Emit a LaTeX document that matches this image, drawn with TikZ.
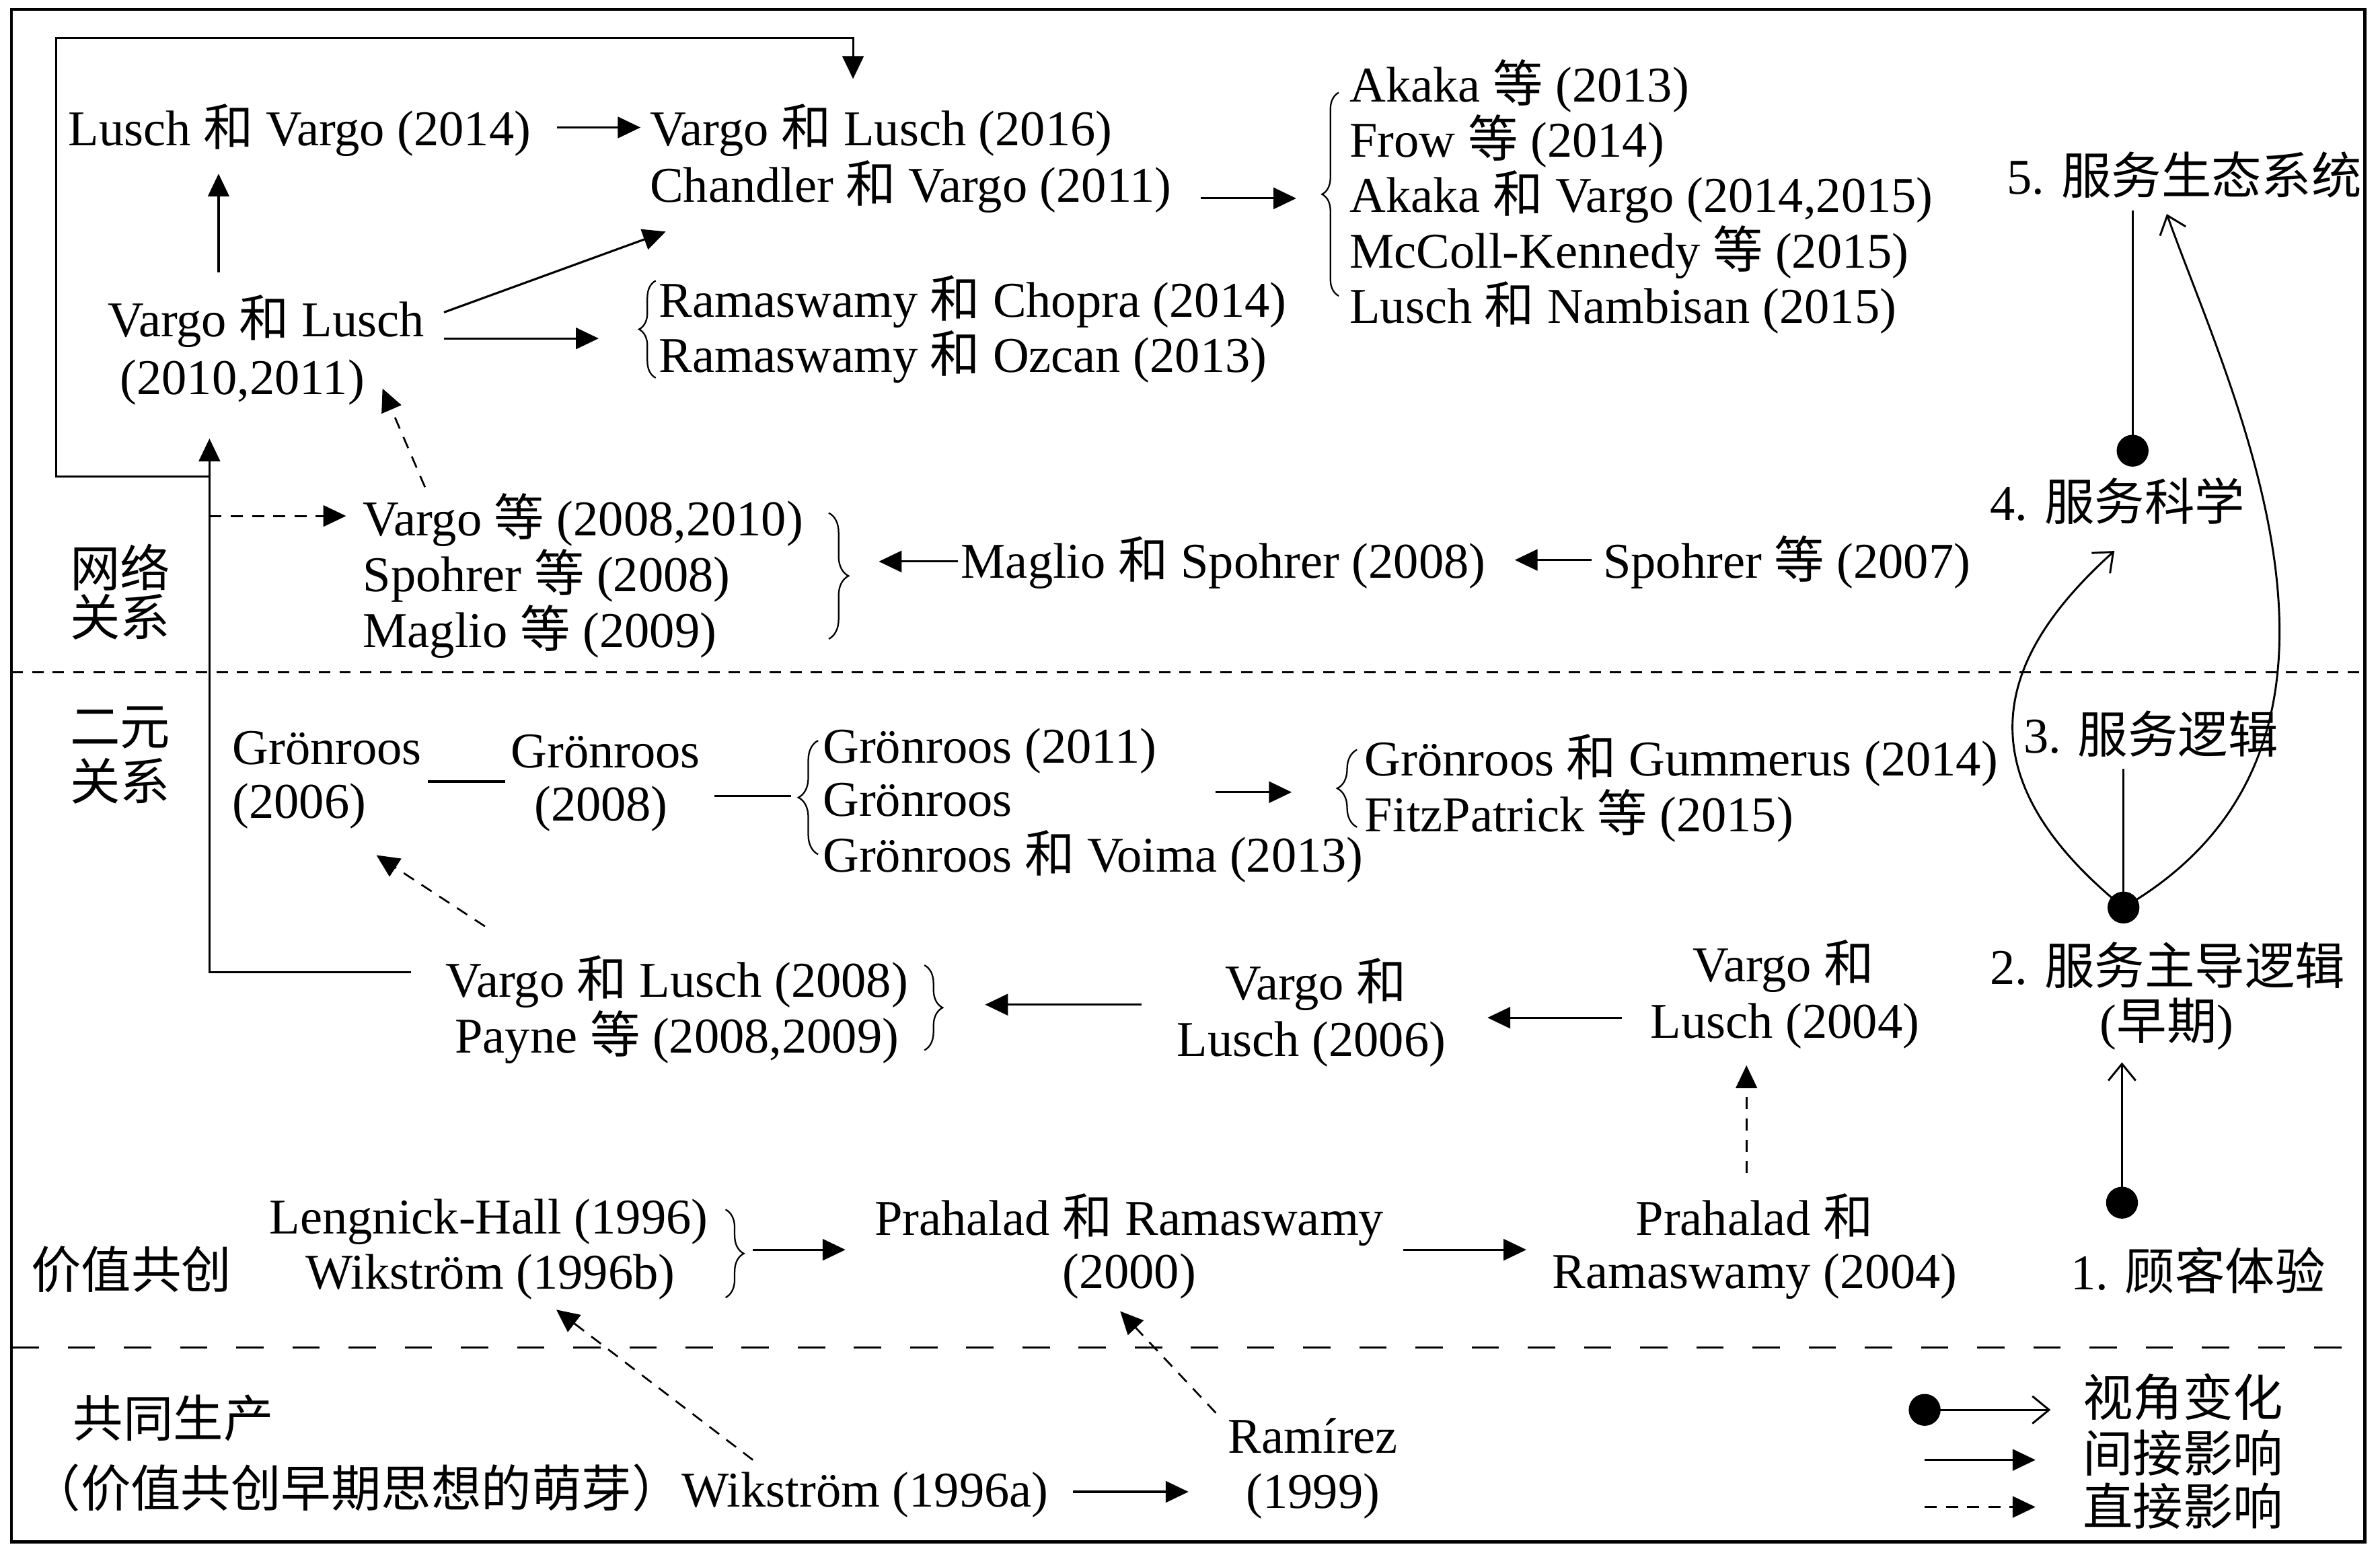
\documentclass[tikz,border=0pt]{standalone}
\usepackage{fontspec}
\setmainfont{Liberation Serif}
\newfontfamily\cjkfont{Noto Sans CJK SC}
\newcommand\zht[1]{{\cjkfont #1}}
\newcommand\fsz{\fontsize{33}{36.5}\selectfont}
\usetikzlibrary{arrows.meta,decorations.pathreplacing}
\tikzset{
  t/.style={font=\fsz, inner sep=0pt, anchor=base west},
  tc/.style={font=\fsz, inner sep=0pt, anchor=base},
  arr/.style={line width=1.4pt, -{Triangle[length=15pt,width=14pt]}},
  darr/.style={line width=1.2pt, dash pattern=on 8pt off 6pt, -{Triangle[length=15pt,width=14pt]}},
  oarr/.style={line width=1.3pt, -{Straight Barb[length=11pt,width=18pt,line width=1.3pt]}},
  plain/.style={line width=1.4pt},
  brc/.style={line width=1pt, decorate, decoration={brace, amplitude=#1}},
  dot/.style={circle, fill=black, inner sep=0pt, minimum size=21pt},
  sepa/.style={line width=1.3pt, dash pattern=on 7.5pt off 6pt},
  sepb/.style={line width=1.6pt, dash pattern=on 18pt off 19pt},
}
\begin{document}
\begin{tikzpicture}[x=1pt,y=-1pt]
\useasboundingbox (0,0) rectangle (1568,1024.6);
\fill[white] (0,0) rectangle (1568,1024.6);
% frame and separators
\draw[line width=2pt] (7.6,6.2) rectangle (1558,1016);
\draw[sepa] (7.6,443) -- (1558,443);
\draw[sepb] (7.6,888) -- (1558,888);

% ---------- network row texts
\node[t] (l14) at (45,96) {Lusch \zht{和} Vargo (2014)};
\node[t] (vl16) at (428,96) {Vargo \zht{和} Lusch (2016)};
\node[t] (cv11) at (428,133) {Chandler \zht{和} Vargo (2011)};
\node[t] (ak13) at (889,67) {Akaka \zht{等} (2013)};
\node[t] (fr14) at (889,103.5) {Frow \zht{等} (2014)};
\node[t] (akv) at (889,140) {Akaka \zht{和} Vargo (2014,2015)};
\node[t] (mck) at (889,176.5) {McColl-Kennedy \zht{等} (2015)};
\node[t] (ln15) at (889,213) {Lusch \zht{和} Nambisan (2015)};
\node[t] (p5) at (1322,128) {5. \zht{服务生态系统}};
\node[t] (vl10a) at (71,222) {Vargo \zht{和} Lusch};
\node[t] (vl10b) at (79,260) {(2010,2011)};
\node[t] (rc14) at (434,209) {Ramaswamy \zht{和} Chopra (2014)};
\node[t] (ro13) at (434,245.5) {Ramaswamy \zht{和} Ozcan (2013)};
\node[t] (ve08) at (239,353) {Vargo \zht{等} (2008,2010)};
\node[t] (sp08) at (239,390) {Spohrer \zht{等} (2008)};
\node[t] (mg09) at (239,426.5) {Maglio \zht{等} (2009)};
\node[t] (ms08) at (633,381) {Maglio \zht{和} Spohrer (2008)};
\node[t] (sp07) at (1056,381) {Spohrer \zht{等} (2007)};
\node[t] (p4) at (1311,343) {4. \zht{服务科学}};
\node[t] (netA) at (46,386.5) {\zht{网络}};
\node[t] (netB) at (46,419) {\zht{关系}};

% ---------- dyadic row texts
\node[t] (dyA) at (46,491) {\zht{二元}};
\node[t] (dyB) at (46,527) {\zht{关系}};
\node[t] (g06a) at (153,503.5) {Grönroos};
\node[t] (g06b) at (153,539) {(2006)};
\node[tc] (g08a) at (399,506) {Grönroos};
\node[tc] (g08b) at (396,541) {(2008)};
\node[t] (g11) at (542,503) {Grönroos (2011)};
\node[t] (g11b) at (542,538) {Grönroos};
\node[t] (gv13) at (542,574.5) {Grönroos \zht{和} Voima (2013)};
\node[t] (gg14) at (899,511) {Grönroos \zht{和} Gummerus (2014)};
\node[t] (fp15) at (899,548) {FitzPatrick \zht{等} (2015)};
\node[t] (p3) at (1333,496) {3. \zht{服务逻辑}};
\node[t] (p2) at (1311,648.5) {2. \zht{服务主导逻辑}};
\node[tc] (p2b) at (1427.5,685) {(\zht{早期})};
\node[tc] (vl04a) at (1175,647) {Vargo \zht{和}};
\node[tc] (vl04b) at (1176,684) {Lusch (2004)};
\node[tc] (vl06a) at (867,659) {Vargo \zht{和}};
\node[tc] (vl06b) at (864,696) {Lusch (2006)};
\node[tc] (vl08) at (446,657) {Vargo \zht{和} Lusch (2008)};
\node[tc] (py) at (446,694) {Payne \zht{等} (2008,2009)};

% ---------- value co-creation row
\node[tc] (lh96) at (322,813) {Lengnick-Hall (1996)};
\node[tc] (wk96b) at (323,849.5) {Wikström (1996b)};
\node[tc] (pr00a) at (744,814) {Prahalad \zht{和} Ramaswamy};
\node[tc] (pr00b) at (744,849) {(2000)};
\node[tc] (pr04a) at (1156,814) {Prahalad \zht{和}};
\node[tc] (pr04b) at (1156,849) {Ramaswamy (2004)};
\node[t] (p1) at (1364,850) {1. \zht{顾客体验}};
\node[t] (vcc) at (20.4,849) {\zht{价值共创}};

% ---------- co-production row
\node[t] (cp) at (48,947) {\zht{共同生产}};
\node[t] (wk96a) at (20,993) {\zht{（价值共创早期思想的萌芽）}Wikström (1996a)};
\node[tc] (ram) at (865,957.5) {Ramírez};
\node[tc] (ram99) at (865,994) {(1999)};

% ---------- legend
\node[t] (lg1) at (1372,933) {\zht{视角变化}};
\node[t] (lg2) at (1372,970) {\zht{间接影响}};
\node[t] (lg3) at (1372,1005) {\zht{直接影响}};

% ---------- dots
\node[dot] (d4) at (1405,297) {};
\node[dot] (d2) at (1399,598) {};
\node[dot] (d1) at (1398,792.5) {};
\node[dot] (dl) at (1268,929) {};

% ---------- connector end points
\coordinate (c1a) at (367,84);   \coordinate (c1b) at (422,84);
\coordinate (c2a) at (791,130.7); \coordinate (c2b) at (854,130.7);
\coordinate (c3a) at (144,179.5); \coordinate (c3b) at (144,114.5);
\coordinate (c4a) at (292.5,205.8); \coordinate (c4b) at (438.6,152.6);
\coordinate (c5a) at (292.5,223); \coordinate (c5b) at (394.4,223);
\coordinate (c6a) at (280,321);   \coordinate (c6b) at (252,256);
\coordinate (c7a) at (631,370);   \coordinate (c7b) at (579,370);
\coordinate (c8a) at (1048.5,369); \coordinate (c8b) at (998,369);
\coordinate (jn) at (138,314);
\coordinate (topL) at (37,25);
\coordinate (topR) at (562,52);
\coordinate (v08l) at (271,640.6); \coordinate (vup) at (138,289);
\coordinate (c9a) at (138,340);   \coordinate (c9b) at (228,340);
\coordinate (g1a) at (282,515);   \coordinate (g1b) at (333,515);
\coordinate (g2a) at (470.6,524.5); \coordinate (g2b) at (521,524.5);
\coordinate (g3a) at (801,522);   \coordinate (g3b) at (851,522);
\coordinate (g4a) at (319.5,610.4); \coordinate (g4b) at (248,563.5);
\coordinate (g5a) at (752,662);   \coordinate (g5b) at (649,662);
\coordinate (g6a) at (1068.5,670.6); \coordinate (g6b) at (980,670.6);
\coordinate (g7a) at (1150.6,773); \coordinate (g7b) at (1150.6,702);
\coordinate (v1a) at (496,823.5); \coordinate (v1b) at (557,823.5);
\coordinate (v2a) at (924.6,823.5); \coordinate (v2b) at (1005.6,823.5);
\coordinate (v3a) at (496,962);   \coordinate (v3b) at (366.5,863);
\coordinate (v4a) at (801,931);   \coordinate (v4b) at (738,864);
\coordinate (v5a) at (707,983);   \coordinate (v5b) at (783,983);
\coordinate (t5) at (1405,138.5);
\coordinate (t3) at (1399,506.5);
\coordinate (t2) at (1398,700);
\coordinate (t4) at (1393,363);
\coordinate (t5b) at (1427.5,141);
\coordinate (le1) at (1351,929);
\coordinate (le2a) at (1268,962); \coordinate (le2b) at (1341,962);
\coordinate (le3a) at (1268,993); \coordinate (le3b) at (1341,993);

% ---------- connectors
\draw[arr] (c1a) -- (c1b);
\draw[arr] (c2a) -- (c2b);
\draw[arr] (c3a) -- (c3b);
\draw[arr] (c4a) -- (c4b);
\draw[arr] (c5a) -- (c5b);
\draw[darr] (c6a) -- (c6b);
\draw[arr] (c7a) -- (c7b);
\draw[arr] (c8a) -- (c8b);
\draw[arr] (jn) -| (topL) -| (topR);
\draw[arr] (v08l) -| (vup);
\draw[darr] (c9a) -- (c9b);
\draw[plain] (g1a) -- (g1b);
\draw[plain] (g2a) -- (g2b);
\draw[arr] (g3a) -- (g3b);
\draw[darr] (g4a) -- (g4b);
\draw[arr] (g5a) -- (g5b);
\draw[arr] (g6a) -- (g6b);
\draw[darr] (g7a) -- (g7b);
\draw[arr] (v1a) -- (v1b);
\draw[arr] (v2a) -- (v2b);
\draw[darr] (v3a) -- (v3b);
\draw[darr] (v4a) -- (v4b);
\draw[arr] (v5a) -- (v5b);

% ---------- braces
\draw[brc=11pt] (882,195) -- (882,61);
\draw[brc=11pt] (432,249) -- (432,185);
\draw[brc=13pt] (546,338) -- (546,421);
\draw[brc=13pt] (539,563) -- (539,488);
\draw[brc=13pt] (894,545) -- (894,494);
\draw[brc=12pt] (609,636) -- (609,692);
\draw[brc=12pt] (478,797) -- (478,855);

% ---------- perspective changes
\draw[line width=1.3pt] (d4.center) -- (t5);
\draw[line width=1.3pt] (d2.center) -- (t3);
\draw[oarr] (d1.center) -- (t2);
\draw[oarr] (d2.center) .. controls (1585,490) and (1470,260) .. (t5b);
\draw[oarr] (d2.center) .. controls (1278,500) and (1330,420) .. (t4);

% ---------- legend connectors
\draw[oarr] (dl.center) -- (le1);
\draw[arr] (le2a) -- (le2b);
\draw[darr] (le3a) -- (le3b);
\end{tikzpicture}
\end{document}
